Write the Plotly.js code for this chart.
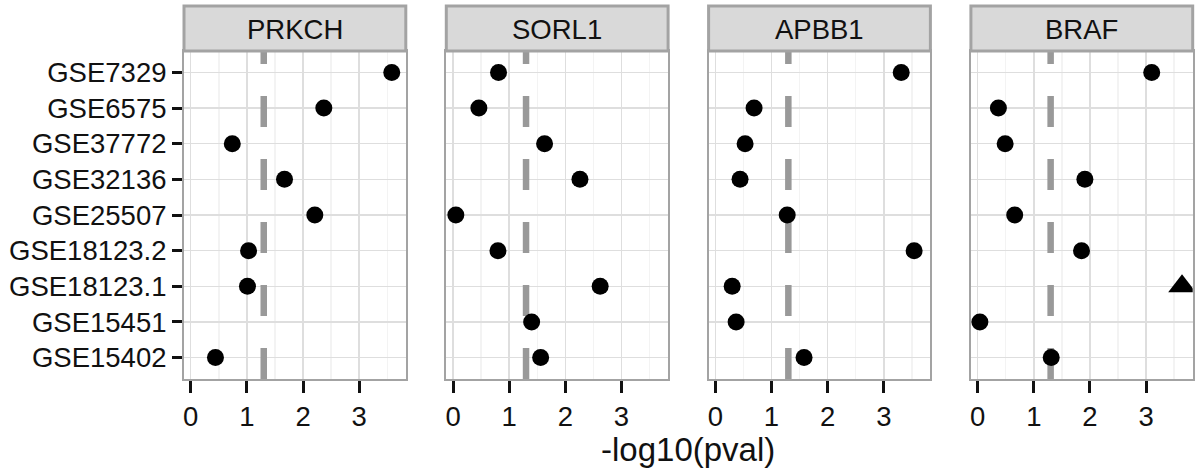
<!DOCTYPE html>
<html><head><meta charset="utf-8">
<script src="https://cdn.plot.ly/plotly-3.0.1.min.js"></script>
<style>html,body{margin:0;padding:0;background:#fff}#chart{width:1196px;height:471px}</style>
</head><body><div id="chart"></div>
<script>
// ---- data (bottom-to-top category order, as ggplot draws factor levels) ----
const datasets = ['GSE15402','GSE15451','GSE18123.1','GSE18123.2','GSE25507','GSE32136','GSE37772','GSE6575','GSE7329'];
const genes = ['PRKCH','SORL1','APBB1','BRAF'];
const prkch = [0.44, null, 1.01, 1.03, 2.21, 1.67, 0.74, 2.37, 3.58];
const sorl1 = [1.56, 1.40, 2.62, 0.80, 0.05, 2.26, 1.63, 0.46, 0.81];
const apbb1 = [1.58, 0.37, 0.30, 3.54, 1.28, 0.44, 0.53, 0.69, 3.31];
const braf  = [1.31, 0.04, 3.64, 1.85, 0.66, 1.91, 0.49, 0.37, 3.10];
// point group: 'cap' drawn as triangle
const prkchGroup = ['pt','pt','pt','pt','pt','pt','pt','pt','pt'];
const sorl1Group = ['pt','pt','pt','pt','pt','pt','pt','pt','pt'];
const apbb1Group = ['pt','pt','pt','pt','pt','pt','pt','pt','pt'];
const brafGroup  = ['pt','pt','cap','pt','pt','pt','pt','pt','pt'];
const threshold = 1.30;          // -log10(0.05)
const xTickVals = [0, 1, 2, 3];
const xTickText = ['0', '1', '2', '3'];
const xTitle = '-log10(pval)';

// ---- layout geometry ----
const W = 1196, H = 471;
const plotTop = 51, plotBottom = 379, stripTop = 6;
const panelLeft = 184, panelWidth = 221.8, panelGap = 40.5;
const FONT = 'Liberation Sans, Arial, Helvetica, sans-serif';
const BORDER = '#A3A3A3';
const FS = 27.5;

const values = [prkch, sorl1, apbb1, braf];
const groups = [prkchGroup, sorl1Group, apbb1Group, brafGroup];
const symbolOf = g => g === 'cap' ? 'triangle-up' : 'circle';

const traces = [];
const layout = {
  width: W, height: H,
  margin: {l: 0, r: 0, t: 0, b: 0},
  paper_bgcolor: '#fff', plot_bgcolor: 'rgba(0,0,0,0)',
  showlegend: false,
  font: {family: FONT, size: FS, color: '#111'},
  shapes: [], annotations: []
};
const yDom = [(H - plotBottom) / H, (H - plotTop) / H];

genes.forEach((gene, i) => {
  const sfx = i === 0 ? '' : String(i + 1);
  const x0 = panelLeft + i * (panelWidth + panelGap);
  const xDom = [x0 / W, (x0 + panelWidth) / W];
  layout['xaxis' + sfx] = {
    domain: xDom, anchor: 'y' + sfx, range: [-0.12, 3.83],
    tickmode: 'array', tickvals: xTickVals, ticktext: xTickText,
    ticks: 'outside', ticklen: 12, tickwidth: 3, tickcolor: '#111',
    tickfont: {family: FONT, size: FS, color: '#111'},
    showgrid: true, gridcolor: '#DEDEDE', gridwidth: 1.5,
    minor: {dtick: 0.5, tick0: 0, showgrid: true, gridcolor: '#F3F3F3', gridwidth: 1.5, ticks: ''},
    zeroline: false, showline: true, mirror: true, linecolor: BORDER, linewidth: 2,
    fixedrange: true
  };
  layout['yaxis' + sfx] = {
    domain: yDom, anchor: 'x' + sfx, type: 'category',
    categoryorder: 'array', categoryarray: datasets, range: [-0.6, datasets.length - 0.4],
    ticks: i === 0 ? 'outside' : '', ticklen: 10, tickwidth: 3, tickcolor: '#111',
    showticklabels: i === 0,
    tickfont: {family: FONT, size: FS, color: '#111'},
    showgrid: true, gridcolor: '#DEDEDE', gridwidth: 1.5,
    zeroline: false, showline: true, mirror: true, linecolor: BORDER, linewidth: 2,
    fixedrange: true
  };
  // strip
  layout.shapes.push({
    type: 'rect', xref: 'paper', yref: 'paper',
    x0: xDom[0], x1: xDom[1], y0: (H - plotTop) / H, y1: (H - stripTop) / H,
    fillcolor: '#D9D9D9', line: {color: BORDER, width: 3}, layer: 'above'
  });
  layout.annotations.push({
    text: gene, xref: 'paper', yref: 'paper',
    x: (xDom[0] + xDom[1]) / 2, y: (H - 30) / H, xanchor: 'center', yanchor: 'middle',
    showarrow: false, font: {family: FONT, size: FS, color: '#111'}
  });
  // threshold dashed line (drawn bottom-up so the dash pattern starts at the bottom)
  layout.shapes.push({
    type: 'line', xref: 'x' + sfx, yref: 'y' + sfx,
    x0: threshold, x1: threshold, y0: -0.6, y1: datasets.length - 0.4,
    line: {color: '#999999', width: 6.5, dash: '31px,32px'}, layer: 'between'
  });
  traces.push({
    type: 'scatter', mode: 'markers', xaxis: 'x' + sfx, yaxis: 'y' + sfx,
    x: values[i], y: datasets,
    marker: {
      color: '#000', opacity: 1,
      symbol: groups[i].map(symbolOf),
      size: groups[i].map(g => g === 'cap' ? 24 : 17),
      line: {width: 0}
    },
    cliponaxis: true, hoverinfo: 'skip'
  });
});

layout.annotations.push({
  text: xTitle, xref: 'paper', yref: 'paper',
  x: (panelLeft + (4 * panelWidth + 3 * panelGap) / 2) / W, y: (H - 449) / H,
  xanchor: 'center', yanchor: 'middle', showarrow: false,
  font: {family: FONT, size: 33, color: '#111'}
});

Plotly.newPlot('chart', traces, layout, {staticPlot: true, displayModeBar: false});
</script>
</body></html>
